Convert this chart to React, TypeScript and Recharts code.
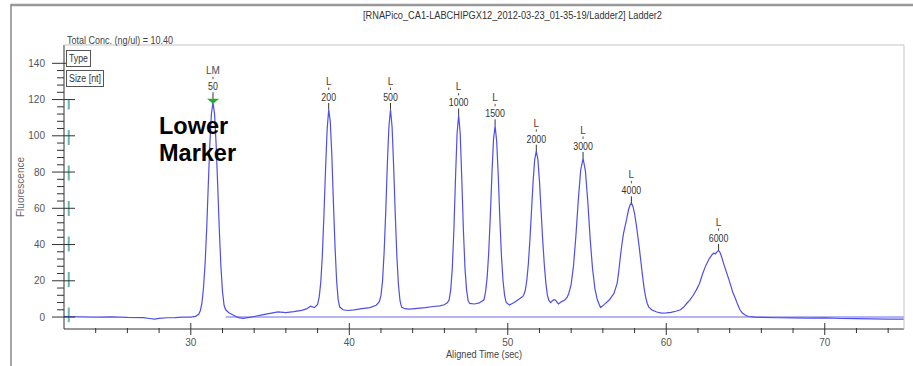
import { ComposedChart, Line, Scatter, XAxis, YAxis, ReferenceLine } from 'recharts'

// electropherogram trace: [aligned time (sec), fluorescence]
const trace: [number, number][] = [
  [22.0, 0.2], [23.0, 0.1], [24.0, -0.1], [25.0, 0.1], [26.0, -0.2], [27.0, -0.3], [27.4, -0.8],
  [27.7, -1.2], [28.0, -0.7], [28.5, -0.4], [29.0, -0.3], [29.5, -0.1], [30.0, 0], [30.3, 0.4],
  [30.5, 1.5], [30.6, 3.5], [30.7, 7.5], [30.8, 16], [30.9, 29], [31.0, 48], [31.1, 72], [31.2, 95],
  [31.3, 112], [31.4, 118.5], [31.5, 112], [31.6, 95], [31.7, 72], [31.8, 48], [31.9, 28], [32.0, 14],
  [32.1, 6.5], [32.2, 4], [32.4, 2.4], [32.7, 1], [33.0, -0.3], [33.3, -0.7], [33.7, -0.2], [34.0, 0.3],
  [34.5, 1.2], [35.0, 2], [35.5, 2.8], [36.0, 2.4], [36.5, 3], [37.0, 3.7], [37.3, 4.5], [37.55, 6],
  [37.8, 5.2], [38.0, 7], [38.1, 11], [38.2, 19], [38.3, 34], [38.4, 56], [38.5, 81], [38.6, 103],
  [38.7, 114.5], [38.8, 108], [38.9, 89], [39.0, 63], [39.1, 39], [39.2, 20], [39.3, 9.5], [39.4, 5.5],
  [39.6, 4], [39.9, 3.6], [40.3, 4], [40.8, 4.6], [41.3, 5.2], [41.7, 6.5], [41.9, 8.5], [42.0, 12],
  [42.1, 20], [42.2, 36], [42.3, 58], [42.4, 84], [42.5, 105], [42.6, 114.5], [42.7, 105], [42.8, 83],
  [42.9, 57], [43.0, 34], [43.1, 18], [43.2, 9], [43.3, 5.5], [43.5, 4.6], [43.8, 4.4], [44.3, 4.8],
  [44.8, 5.2], [45.3, 5.8], [45.7, 6.2], [46.0, 6.8], [46.2, 8], [46.3, 9.5], [46.4, 15], [46.5, 27],
  [46.6, 48], [46.7, 76], [46.8, 101], [46.9, 111.5], [47.0, 101], [47.1, 76], [47.2, 48], [47.3, 27],
  [47.4, 15], [47.5, 9], [47.6, 7.5], [47.9, 7.2], [48.2, 7.8], [48.5, 9.5], [48.6, 14], [48.7, 22],
  [48.8, 36], [48.9, 56], [49.0, 79], [49.1, 98], [49.2, 105.5], [49.3, 97], [49.4, 78], [49.5, 54],
  [49.6, 34], [49.7, 20], [49.8, 12], [49.9, 8], [50.1, 6.6], [50.4, 8], [50.7, 9.8], [50.9, 11],
  [51.0, 12], [51.1, 14.5], [51.2, 20], [51.3, 29.5], [51.4, 43], [51.5, 59], [51.6, 75], [51.7, 87],
  [51.8, 91.5], [51.9, 87], [52.0, 75], [52.1, 59], [52.2, 43], [52.3, 29.5], [52.4, 19], [52.5, 12],
  [52.6, 9], [52.7, 8], [52.9, 9.6], [53.0, 9.4], [53.2, 7.2], [53.4, 8.5], [53.6, 9.4], [53.75, 11],
  [53.85, 13], [54.0, 18], [54.15, 28.5], [54.3, 45], [54.45, 64.5], [54.6, 81], [54.75, 87.5],
  [54.9, 80.5], [55.05, 63.5], [55.2, 43], [55.35, 26.5], [55.5, 15.5], [55.65, 9.5], [55.85, 5.3],
  [56.1, 7], [56.4, 9.4], [56.7, 13], [56.9, 18.6], [57.0, 25], [57.1, 33], [57.2, 40], [57.3, 46],
  [57.4, 50], [57.5, 54], [57.6, 58.5], [57.7, 61.5], [57.8, 63], [57.9, 61], [58.0, 57], [58.1, 51.5],
  [58.2, 45], [58.3, 38], [58.4, 30.5], [58.5, 23], [58.6, 16], [58.7, 11], [58.8, 7.5], [58.9, 5.5],
  [59.1, 3.9], [59.4, 2.8], [59.7, 2.2], [60.0, 2.3], [60.3, 2.6], [60.6, 3.2], [60.9, 4], [61.1, 5.5],
  [61.3, 7.6], [61.5, 9.5], [61.7, 12], [61.9, 15], [62.1, 18.5], [62.3, 24], [62.5, 28.5], [62.7, 32],
  [62.9, 34.5], [63.0, 35.3], [63.1, 34.8], [63.2, 36], [63.3, 36.8], [63.4, 35.5], [63.5, 33], [63.6, 30],
  [63.75, 26], [63.9, 22], [64.05, 18], [64.2, 13.5], [64.35, 10.5], [64.5, 7], [64.65, 4], [64.8, 2.2],
  [65.0, 1], [65.2, 0.3], [65.6, 0], [66.0, -0.2], [67.0, -0.4], [68.0, -0.5], [69.0, -0.6], [70.0, -0.5],
  [71.0, -0.8], [72.0, -0.9], [73.0, -1], [74.0, -1.1], [75.0, -1.2],
]

const baseline: [number, number][] = [[32.2, 0], [75, 0]]

const peakTimes = [31.4, 38.7, 42.6, 46.9, 49.2, 51.8, 54.75, 57.8, 63.3]
const peakHeights = [118.5, 114.5, 114.5, 111.5, 105.5, 91.5, 87.5, 63, 36.8]
const peakTypes = ['LM', 'L', 'L', 'L', 'L', 'L', 'L', 'L', 'L']
const peakSizes = ['50', '200', '500', '1000', '1500', '2000', '3000', '4000', '6000']

const xTicks = [24, 26, 28, 30, 32, 34, 36, 38, 40, 42, 44, 46, 48, 50, 52, 54, 56, 58, 60, 62, 64, 66, 68, 70, 72, 74]
const xLabels = [30, 40, 50, 60, 70]
const yTicks = [0, 4, 8, 12, 16, 20, 24, 28, 32, 36, 40, 44, 48, 52, 56, 60, 64, 68, 72, 76, 80, 84, 88, 92, 96,
  100, 104, 108, 112, 116, 120, 124, 128, 132, 136, 140]
const yLabels = [0, 20, 40, 60, 80, 100, 120, 140]

const traceData = trace.map(([t, v]) => ({ t, v }))
const baselineData = baseline.map(([t, v]) => ({ t, v }))
const peakData = peakTimes.map((t, i) => ({ t, v: peakHeights[i], type: peakTypes[i], size: peakSizes[i] }))

const AXIS = '#333'
const TICK_TEXT = '#555'
const FONT = "'Liberation Sans', Arial, sans-serif"

const X_TICK_SIZE = 6
const X_TICK_MARGIN = 4
const Y_TICK_SIZE = 12
const Y_TICK_MARGIN = 2

const XTick = (props: any) => {
  const { x, y, payload } = props
  const axisY = y - X_TICK_SIZE - X_TICK_MARGIN
  const major = xLabels.includes(payload.value)
  return (
    <g>
      <line x1={x} x2={x} y1={major ? axisY - 6 : axisY - 1} y2={major ? axisY + 6 : axisY + 4} stroke={AXIS} />
      {major && (
        <text x={x} y={axisY + 17} textAnchor="middle" fontSize={10} fontFamily={FONT} fill={TICK_TEXT}>
          {payload.value}
        </text>
      )}
    </g>
  )
}

const YTick = (props: any) => {
  const { x, y, payload } = props
  const axisX = x + Y_TICK_MARGIN + Y_TICK_SIZE
  const major = yLabels.includes(payload.value)
  return (
    <g>
      <line x1={major ? axisX - 12 : axisX - 7} x2={major ? axisX + 11 : axisX} y1={y} y2={y} stroke={AXIS} />
      {major && (
        <text x={axisX - 19} y={y + 3.5} textAnchor="end" fontSize={10} fontFamily={FONT} fill={TICK_TEXT}>
          {payload.value}
        </text>
      )}
    </g>
  )
}

const PeakLabel = (props: any) => {
  const { cx, cy, payload } = props
  if (cx == null || cy == null) return null
  const lm = payload.type === 'LM'
  const lift = lm ? 3.5 : 0
  return (
    <g>
      {lm && <polygon points={`${cx - 6},${cy - 3.5} ${cx + 6},${cy - 3.5} ${cx},${cy + 1.5}`} fill="#1fae2a" />}
      <line x1={cx} x2={cx} y1={cy - 6.5 - lift} y2={cy - lift} stroke="#333" />
      <text x={cx} y={cy - 8.5 - lift} textAnchor="middle" fontSize={10} fontFamily={FONT} fill="#333"
        textLength={payload.size.length * 4.9} lengthAdjust="spacingAndGlyphs">
        {payload.size}
      </text>
      <line x1={cx} x2={cx} y1={cy - 22 - lift} y2={cy - 19.5 - lift} stroke="#555" />
      <text x={cx} y={cy - 24.5 - lift} textAnchor="middle" fontSize={10} fontFamily={FONT}
        fill={lm ? '#3d4f55' : '#5a3a3a'}>
        {payload.type}
      </text>
    </g>
  )
}

export default function App() {
  return (
    <div style={{ position: 'absolute', left: 0, top: 0, width: 913, height: 366, background: '#fff' }}>
      <ComposedChart width={913} height={366} margin={{ top: 45, right: 9, bottom: 0, left: 0 }}>
        <XAxis
          dataKey="t"
          type="number"
          domain={[22, 75]}
          allowDataOverflow
          ticks={xTicks}
          interval={0}
          height={37}
          tickSize={X_TICK_SIZE}
          tickMargin={X_TICK_MARGIN}
          tickLine={false}
          axisLine={{ stroke: AXIS }}
          tick={<XTick />}
        />
        <YAxis
          dataKey="v"
          type="number"
          domain={[-6.6, 150.1]}
          allowDataOverflow
          ticks={yTicks}
          interval={0}
          width={64}
          tickSize={Y_TICK_SIZE}
          tickMargin={Y_TICK_MARGIN}
          tickLine={false}
          axisLine={{ stroke: AXIS }}
          tick={<YTick />}
        />
        <ReferenceLine
          segment={[{ x: 22.3, y: 119.8 }, { x: 22.3, y: -2.9 }]}
          stroke="#62b8ae"
          strokeWidth={2}
          strokeDasharray="15 20.5"
          strokeDashoffset={5.5}
          ifOverflow="visible"
        />
        <Line
          data={baselineData}
          dataKey="v"
          type="linear"
          stroke="#9d9df2"
          strokeWidth={1.5}
          dot={false}
          isAnimationActive={false}
        />
        <Line
          data={traceData}
          dataKey="v"
          type="linear"
          stroke="#4f4fe6"
          strokeWidth={1.2}
          dot={false}
          isAnimationActive={false}
        />
        <Scatter data={peakData} dataKey="v" shape={<PeakLabel />} isAnimationActive={false} />
      </ComposedChart>
      <svg width={913} height={366} style={{ position: 'absolute', left: 0, top: 0, pointerEvents: 'none' }}>
        <line x1={11} x2={913} y1={5} y2={5} stroke="#999" strokeWidth={2.5} />
        <line x1={11} x2={11} y1={4} y2={366} stroke="#888" strokeWidth={1.5} />
        <line x1={64} x2={904} y1={45} y2={45} stroke="#c4c4c4" />
        <line x1={904} x2={904} y1={45} y2={329} stroke="#c4c4c4" />
        <text x={363} y={19} fontSize={10} fontFamily={FONT} fill="#333" textLength={299} lengthAdjust="spacingAndGlyphs">
          [RNAPico_CA1-LABCHIPGX12_2012-03-23_01-35-19/Ladder2]  Ladder2
        </text>
        <text x={67} y={43.5} fontSize={10} fontFamily={FONT} fill="#444" textLength={106} lengthAdjust="spacingAndGlyphs">
          Total Conc. (ng/ul) = 10.40
        </text>
        <rect x={66.5} y={50.5} width={24} height={16} fill="#fff" stroke="#555" />
        <text x={69} y={62} fontSize={10} fontFamily={FONT} fill="#333" textLength={19} lengthAdjust="spacingAndGlyphs">
          Type
        </text>
        <rect x={66.5} y={70.5} width={37} height={16} fill="#fff" stroke="#555" />
        <text x={69} y={82} fontSize={10} fontFamily={FONT} fill="#333" textLength={32} lengthAdjust="spacingAndGlyphs">
          Size [nt]
        </text>
        <text x={159} y={134} fontSize={23.5} fontWeight="bold" fontFamily={FONT} fill="#000">Lower</text>
        <text x={159} y={161} fontSize={23.5} fontWeight="bold" fontFamily={FONT} fill="#000">Marker</text>
        <text x={24} y={187} transform="rotate(-90 24 187)" textAnchor="middle" fontSize={10} fontFamily={FONT} fill="#666"
          textLength={60} lengthAdjust="spacingAndGlyphs">
          Fluorescence
        </text>
        <text x={484} y={358} textAnchor="middle" fontSize={10} fontFamily={FONT} fill="#444"
          textLength={76} lengthAdjust="spacingAndGlyphs">
          Aligned Time (sec)
        </text>
      </svg>
    </div>
  )
}
